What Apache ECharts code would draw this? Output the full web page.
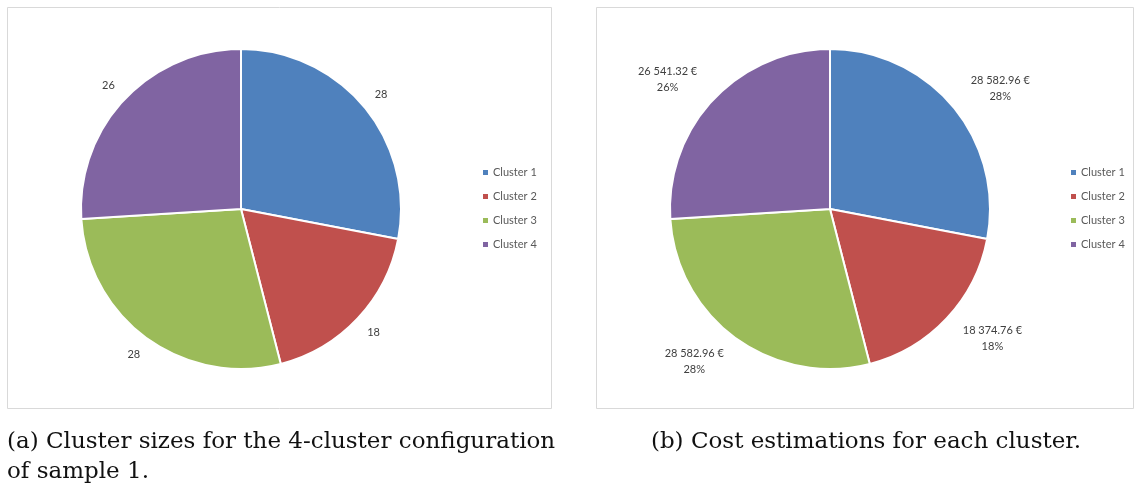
<!DOCTYPE html>
<html>
<head>
<meta charset="utf-8">
<title>Cluster sizes and cost estimations</title>
<script src="https://cdn.jsdelivr.net/npm/echarts@6/dist/echarts.min.js"></script>
<style>
  html, body { margin: 0; padding: 0; background: #ffffff; }
  #chart { width: 1134px; height: 486px; }
</style>
</head>
<body>
<div id="chart"></div>
<script>
// Cluster names shared by both pies and both legends
const clusters = ['Cluster 1', 'Cluster 2', 'Cluster 3', 'Cluster 4'];
// Number of elements per cluster (left pie)
const clusterSizes = [28, 18, 28, 26];
// Estimated cost per cluster in euros (right pie)
const clusterCosts = [28582.96, 18374.76, 28582.96, 26541.32];
// Office-style slice colours
const clusterColors = ['#4F81BD', '#C0504D', '#9BBB59', '#8064A2'];
// Sub-figure captions
const captionA = '(a) Cluster sizes for the 4-cluster configuration\nof sample 1.';
const captionB = '(b) Cost estimations for each cluster.';

const uiFont = 'Lato, "Open Sans", sans-serif';
const captionFont = '"DejaVu Serif", "Liberation Serif", serif';

function euro(v) {
  const parts = v.toFixed(2).split('.');
  const grouped = parts[0].replace(/\B(?=(\d{3})+(?!\d))/g, ' ');
  return grouped + '.' + parts[1] + ' \u20AC';
}

function sliceData(values) {
  return clusters.map((name, i) => ({
    name: name,
    value: values[i],
    itemStyle: { color: clusterColors[i] }
  }));
}

const baseSeries = {
  type: 'pie',
  radius: 160,
  startAngle: 90,
  clockwise: true,
  avoidLabelOverlap: false,
  silent: true,
  itemStyle: { borderColor: '#ffffff', borderWidth: 2 },
  emphasis: { disabled: true }
};

const legendBase = {
  orient: 'vertical',
  top: 162,
  padding: 5,
  itemWidth: 5,
  itemHeight: 5,
  itemGap: 13,
  icon: 'rect',
  selectedMode: false,
  itemStyle: { borderWidth: 0 },
  textStyle: { fontFamily: uiFont, fontSize: 11, color: '#595959' }
};

const chart = echarts.init(document.getElementById('chart'), null, { renderer: 'canvas' });

chart.setOption({
  backgroundColor: '#ffffff',
  animation: false,
  legend: [
    Object.assign({}, legendBase, { left: 478, data: clusters }),
    Object.assign({}, legendBase, { left: 1066, data: clusters })
  ],
  graphic: [
    { type: 'rect', shape: { x: 7.5, y: 7.5, width: 544, height: 401 },
      style: { fill: 'none', stroke: '#d9d9d9', lineWidth: 1 }, silent: true },
    { type: 'rect', shape: { x: 596.5, y: 7.5, width: 537, height: 401 },
      style: { fill: 'none', stroke: '#d9d9d9', lineWidth: 1 }, silent: true },
    { type: 'text', x: 7, y: 427,
      style: { text: captionA, font: '23px ' + captionFont, fill: '#111111',
               lineHeight: 30, verticalAlign: 'top' } },
    { type: 'text', x: 866, y: 442,
      style: { text: captionB, font: '23px ' + captionFont, fill: '#111111',
               align: 'center', verticalAlign: 'middle' } }
  ],
  series: [
    Object.assign({}, baseSeries, {
      name: 'Cluster sizes',
      center: [241, 209],
      data: sliceData(clusterSizes),
      labelLine: { show: false, length: 20, length2: 0 },
      label: {
        show: true,
        position: 'outside',
        distanceToLabelLine: -5,
        formatter: (p) => String(p.value),
        fontFamily: uiFont,
        fontSize: 11,
        color: '#404040'
      }
    }),
    Object.assign({}, baseSeries, {
      name: 'Cost estimations',
      center: [830, 209],
      data: sliceData(clusterCosts),
      labelLine: { show: false, length: 29, length2: 0 },
      label: {
        show: true,
        position: 'outside',
        distanceToLabelLine: -5,
        formatter: (p) => '{v|' + euro(p.value) + '}\n{p|' + Math.round(p.percent) + '%}',
        fontFamily: uiFont,
        fontSize: 11,
        color: '#404040',
        rich: {
          v: { align: 'center', fontFamily: uiFont, fontSize: 11, color: '#404040', lineHeight: 16 },
          p: { align: 'center', fontFamily: uiFont, fontSize: 11, color: '#404040', lineHeight: 16 }
        }
      }
    })
  ]
});
</script>
</body>
</html>
